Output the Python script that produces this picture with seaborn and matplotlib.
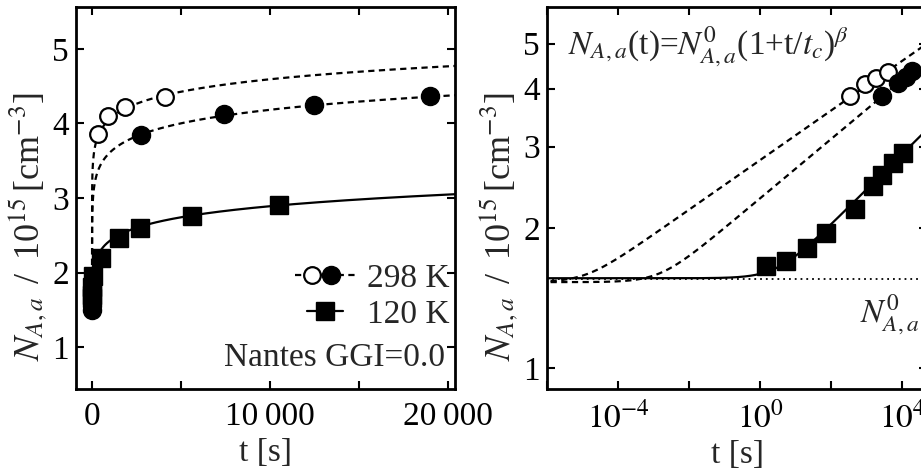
import numpy as np
import pandas as pd
import matplotlib
matplotlib.use("Agg")
import matplotlib.pyplot as plt
import seaborn as sns
from matplotlib.lines import Line2D
from matplotlib.legend_handler import HandlerBase
from matplotlib.ticker import FixedLocator, FixedFormatter, NullLocator

# ---------------- data ----------------
t_298_open = [350, 900, 1850, 4100]
n_298_open = [3.86, 4.10, 4.22, 4.35]
t_298_fill = [0, 2750, 7400, 12500, 19000]
n_298_fill = [1.50, 3.85, 4.12, 4.24, 4.37]
t_120 = [1.5, 5.4, 21, 72, 480, 1500, 2700, 5600, 10500]
n_120 = [1.66, 1.70, 1.81, 1.95, 2.20, 2.47, 2.60, 2.76, 2.90]

# fit parameters N(t) = N0 (1 + t/tc)^beta
fit_open = dict(n0=1.53, tc=1.2e-5, beta=0.0535)
fit_fill = dict(n0=1.53, tc=1.5e-3, beta=0.064)
fit_120 = dict(n0=1.56, tc=3.0, beta=0.076)
n0_level = 1.555

left_xticks = [0, 5000, 10000, 15000, 20000]
left_xticklabels = ["0", "", "10\u2009000", "", "20\u2009000"]
right_xticks = [1e-6, 1e-4, 1e-2, 1e0, 1e2, 1e4, 1e6]
right_xticklabels = ["", r"$10^{-4}$", "", r"$10^{0}$", "", r"$10^{4}$", ""]
yticks = [1, 2, 3, 4, 5]

# ---------------- style ----------------
sns.set_theme(style="ticks")
plt.rcParams["font.family"] = ["Liberation Serif", "DejaVu Serif"]
plt.rcParams["mathtext.fontset"] = "stix"
FS = 24
plt.rcParams.update({
    "font.size": FS, "axes.labelsize": FS, "xtick.labelsize": FS, "ytick.labelsize": FS,
    "axes.linewidth": 2.0, "axes.edgecolor": "black",
    "xtick.direction": "in", "ytick.direction": "in",
    "xtick.top": True, "ytick.right": True,
    "xtick.major.size": 6, "ytick.major.size": 6,
    "xtick.major.width": 1.5, "ytick.major.width": 1.5,
    "xtick.color": "black", "ytick.color": "black",
    "xtick.major.pad": 9, "ytick.major.pad": 5,
})

DASH = (0, (2.8, 2.0))
LW = 1.6
MS = 13

def model(t, p):
    return p["n0"] * (1 + np.asarray(t) / p["tc"]) ** p["beta"]

fig = plt.figure(figsize=(9.21, 4.72), dpi=100)
W, H = 921, 472
axL = fig.add_axes([76 / W, (H - 389) / H, (455 - 76) / W, (389 - 7) / H])
axR = fig.add_axes([547 / W, (H - 389) / H, (927 - 547) / W, (389 - 7) / H])

def draw(ax, t_fit):
    for p, ls in ((fit_open, DASH), (fit_fill, DASH), (fit_120, "-")):
        sns.lineplot(x=t_fit, y=model(t_fit, p), ax=ax, color="black", lw=LW,
                     linestyle=ls, estimator=None, sort=False, zorder=2)
    sns.lineplot(x=t_298_open, y=n_298_open, ax=ax, estimator=None, sort=False,
                 linestyle="none", marker="o", markersize=MS - 1, markerfacecolor="white",
                 markeredgecolor="black", markeredgewidth=1.6, color="black", zorder=3)
    sns.lineplot(x=t_298_fill, y=n_298_fill, ax=ax, estimator=None, sort=False,
                 linestyle="none", marker="o", markersize=MS, markerfacecolor="black",
                 markeredgecolor="black", markeredgewidth=1, color="black", zorder=3)
    sns.lineplot(x=t_120, y=n_120, ax=ax, estimator=None, sort=False,
                 linestyle="none", marker="s", markersize=MS, markerfacecolor="black",
                 markeredgecolor="black", markeredgewidth=1, color="black", zorder=3)

# ---------------- left panel ----------------
tL = np.concatenate([[0.0], np.logspace(-9, np.log10(21000), 800)])
draw(axL, tL)
axL.set_xlim(-900, 20400)
axL.set_ylim(0.44, 5.56)
axL.xaxis.set_major_locator(FixedLocator(left_xticks))
axL.xaxis.set_major_formatter(FixedFormatter(left_xticklabels))
axL.set_yticks(yticks)
axL.set_yticklabels([str(v) for v in yticks])

# ---------------- right panel ----------------
tR = np.logspace(-6.5, 5.5, 800)
draw(axR, tR)
sns.lineplot(x=tR, y=np.full_like(tR, n0_level), ax=axR, color="black", lw=1.3,
             linestyle=(0, (1, 2.2)), estimator=None, sort=False, zorder=1)
axR.set_xscale("log")
axR.set_yscale("log")
axR.set_xlim(1e-6, 5e4)
axR.set_ylim(0.9, 6.0)
axR.xaxis.set_major_locator(FixedLocator(right_xticks))
axR.xaxis.set_major_formatter(FixedFormatter(right_xticklabels))
axR.xaxis.set_minor_locator(NullLocator())
axR.yaxis.set_major_locator(FixedLocator(yticks))
axR.yaxis.set_major_formatter(FixedFormatter([str(v) for v in yticks]))
axR.yaxis.set_minor_locator(NullLocator())

ylab = r"$N_{A,a}\,$ / $\,$10$^{15}\,$[cm$^{-3}$]"
for ax in (axL, axR):
    ax.set_xlabel("t [s]", labelpad=4)
    ax.set_ylabel(ylab, fontsize=26)
    ax.yaxis.set_label_coords(-0.07, 0.425)
    for s in ax.spines.values():
        s.set_visible(True)
        s.set_color("black")

axL.text(0.974, 0.081, "Nantes GGI=0.0", transform=axL.transAxes,
         ha="right", va="center", fontsize=FS)
axR.text(0.055, 0.874, r"$N_{A,a}$(t)=$N^{0}_{A,a}$(1+t/$t_c$)$^{\beta}$",
         transform=axR.transAxes, ha="left", va="baseline", fontsize=FS)
axR.text(0.824, 0.176, r"$N^{0}_{A,a}$", transform=axR.transAxes,
         ha="left", va="baseline", fontsize=FS)

# ---------------- legend ----------------
class Handler298(HandlerBase):
    def create_artists(self, legend, orig_handle, xdescent, ydescent, width, height, fontsize, trans):
        y = height / 2 - ydescent
        x0 = -xdescent
        cx = x0 + width / 2
        d = MS * 0.72
        line = Line2D([x0, x0 + width], [y, y], color="black", lw=LW, linestyle=DASH)
        c1 = Line2D([cx - d], [y], marker="o", ms=MS - 1, mfc="white", mec="black", mew=1.6, ls="none")
        c2 = Line2D([cx + d * 0.45], [y], marker="o", ms=MS, mfc="black", mec="black", ls="none")
        for a in (line, c1, c2):
            a.set_transform(trans)
        return [line, c1, c2]

class Handler120(HandlerBase):
    def create_artists(self, legend, orig_handle, xdescent, ydescent, width, height, fontsize, trans):
        y = height / 2 - ydescent
        x0 = -xdescent
        cx = x0 + width / 2
        half = width * 0.30
        line = Line2D([cx - half, cx + half], [y, y], color="black", lw=LW)
        sq = Line2D([cx], [y], marker="s", ms=MS, mfc="black", mec="black", ls="none")
        for a in (line, sq):
            a.set_transform(trans)
        return [line, sq]

h298 = Line2D([], [], color="black")
h120 = Line2D([], [], color="black", marker="s")
leg = axL.legend([h298, h120], ["298 K", "120 K"],
                 handler_map={h298: Handler298(), h120: Handler120()},
                 loc="center right", bbox_to_anchor=(0.985, 0.242),
                 frameon=False, fontsize=FS, handlelength=1.8, handletextpad=0.35,
                 borderpad=0, borderaxespad=0, labelspacing=0.15)

fig.savefig("out.png", dpi=100)
